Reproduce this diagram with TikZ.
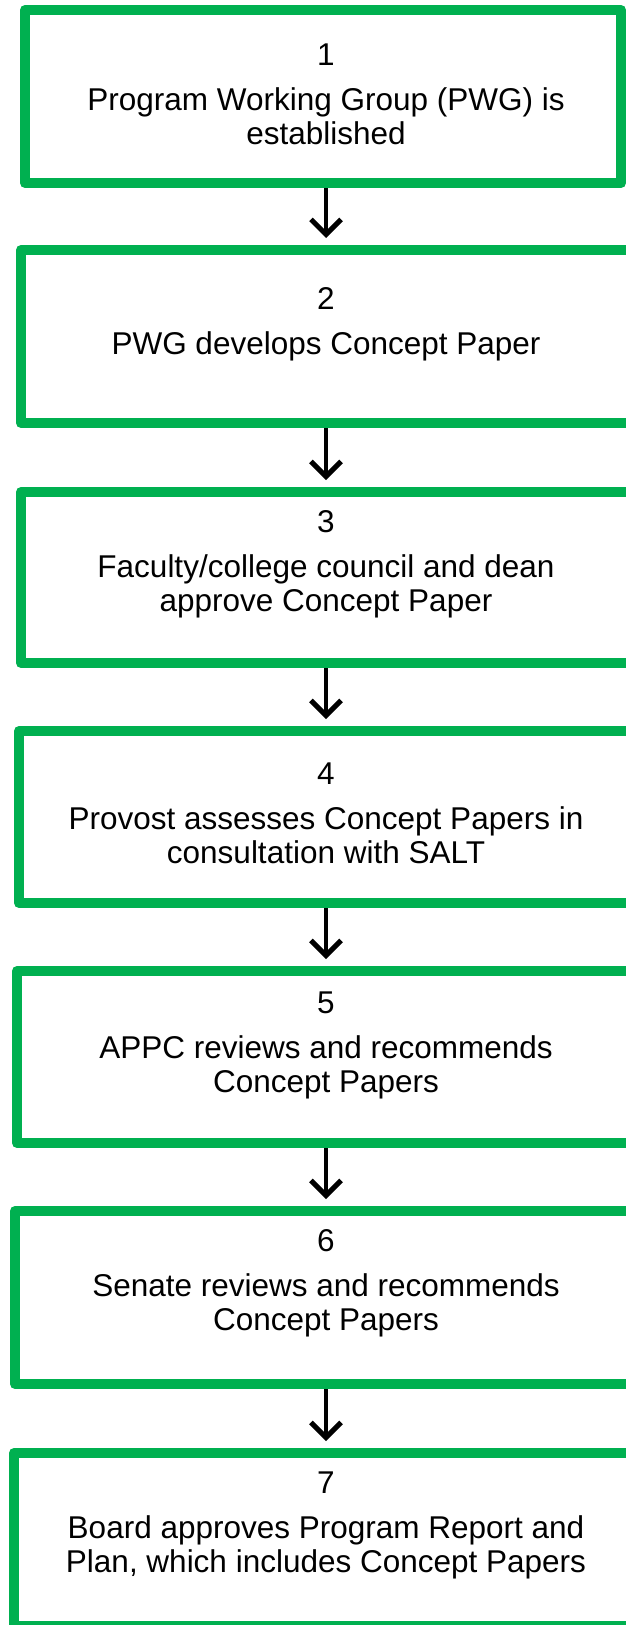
\documentclass[tikz,border=0pt]{standalone}
\usepackage{fontspec}
\setmainfont{Liberation Sans}
\usetikzlibrary{arrows.meta}
\definecolor{stepgreen}{HTML}{00B050}
\begin{document}
\begin{tikzpicture}[x=1pt,y=-1pt,
    stepbox/.style={draw=stepgreen,line width=10pt,line join=round,anchor=north west,inner sep=0pt},
    steptext/.style={anchor=north,align=center,inner sep=0pt,font=\fontsize{31.5}{34}\selectfont},
    steparrow/.style={line width=4.5pt,-{Straight Barb[length=15pt,width=30pt,line width=5pt]},shorten >=7pt}]
  \clip (0,0) rectangle (626,1625);
  \node[stepbox,minimum width=596pt,minimum height=173pt] (s1) at (20,5) {};
  \node[stepbox,minimum width=614pt,minimum height=173pt] (s2) at (16,245) {};
  \node[stepbox,minimum width=614pt,minimum height=171pt] (s3) at (16,487) {};
  \node[stepbox,minimum width=616pt,minimum height=172pt] (s4) at (14,726) {};
  \node[stepbox,minimum width=618pt,minimum height=172pt] (s5) at (12,966) {};
  \node[stepbox,minimum width=620pt,minimum height=173pt] (s6) at (10,1206) {};
  \node[stepbox,minimum width=621pt,minimum height=173pt] (s7) at (9,1448) {};
  \node[steptext] (t1) at (326,43.7) {1\\[11pt]Program Working Group (PWG) is\\established};
  \node[steptext] (t2) at (326,287.2) {2\\[11pt]PWG develops Concept Paper};
  \node[steptext] (t3) at (326,510) {3\\[11pt]Faculty/college council and dean\\approve Concept Paper};
  \node[steptext] (t4) at (326,762.9) {4\\[11pt]Provost assesses Concept Papers in\\consultation with SALT};
  \node[steptext] (t5) at (326,991.9) {5\\[11pt]APPC reviews and recommends\\Concept Papers};
  \node[steptext] (t6) at (326,1229.3) {6\\[11pt]Senate reviews and recommends\\Concept Papers};
  \node[steptext] (t7) at (326,1471.8) {7\\[11pt]Board approves Program Report and\\Plan, which includes Concept Papers};
  \draw[steparrow] (s1.south -| t1.north) -- (s2.north -| t1.north);
  \draw[steparrow] (s2.south -| t2.north) -- (s3.north -| t2.north);
  \draw[steparrow] (s3.south -| t3.north) -- (s4.north -| t3.north);
  \draw[steparrow] (s4.south -| t4.north) -- (s5.north -| t4.north);
  \draw[steparrow] (s5.south -| t5.north) -- (s6.north -| t5.north);
  \draw[steparrow] (s6.south -| t6.north) -- (s7.north -| t6.north);
\end{tikzpicture}
\end{document}
